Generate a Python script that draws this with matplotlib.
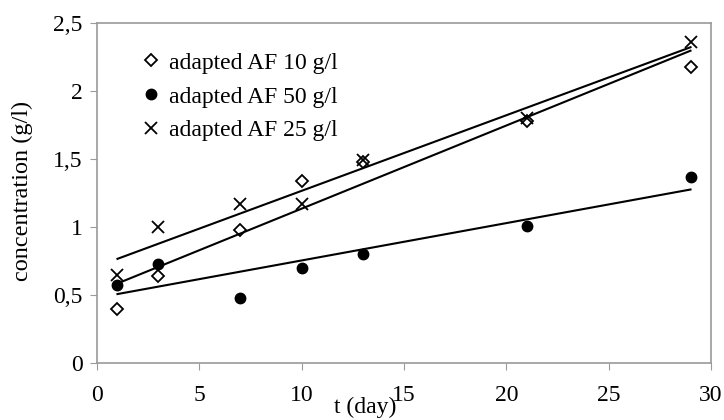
import numpy as np
import matplotlib
matplotlib.use("Agg")
import matplotlib.pyplot as plt
from matplotlib.ticker import FuncFormatter

days = [1, 3, 7, 10, 13, 21, 29]
af10 = [0.40, 0.64, 0.98, 1.34, 1.48, 1.78, 2.18]
af50 = [0.57, 0.73, 0.48, 0.70, 0.80, 1.01, 1.37]
af25 = [0.65, 1.00, 1.17, 1.17, 1.49, 1.80, 2.36]

plt.rcParams['font.family'] = ['Liberation Serif', 'DejaVu Serif']
plt.rcParams['font.size'] = 17

fig = plt.figure(figsize=(7.24, 4.2), dpi=100)
ax = fig.add_axes([0.134, 0.136, 0.848, 0.809])

x = np.array(days)
ax.plot(x, af10, ls='none', marker='D', ms=6.5, mfc='white', mec='black', mew=1.3,
        label='adapted AF 10 g/l')
ax.plot(x, af50, ls='none', marker='o', ms=7.5, mfc='black', mec='black',
        label='adapted AF 50 g/l')
ax.plot(x, af25, ls='none', marker='x', ms=9, mec='black', mew=1.3,
        label='adapted AF 25 g/l')

# linear trend lines
for ys in (af10, af50, af25):
    k, b = np.polyfit(x, ys, 1)
    ax.plot([x[0], x[-1]], [k * x[0] + b, k * x[-1] + b], color='black', lw=1.5)

ax.set_xlim(0, 30)
ax.set_ylim(0, 2.5)
ax.set_xticks([0, 5, 10, 15, 20, 25, 30])
ax.set_yticks([0, 0.5, 1, 1.5, 2, 2.5])
ax.yaxis.set_major_formatter(FuncFormatter(lambda v, p: ('%g' % v).replace('.', ',')))

for s in ax.spines.values():
    s.set_color('#9a9a9a')
    s.set_linewidth(1.2)
ax.tick_params(axis='x', direction='out', length=5, color='#9a9a9a', pad=11)
ax.tick_params(axis='y', direction='out', length=5, color='#9a9a9a', pad=5.5)

fig.text(22 / 724, 1 - 191 / 420, 'concentration (g/l)', rotation=90,
         ha='center', va='center', fontsize=17.5)
fig.text(0.504, 0.03, 't (day)', ha='center', va='center', fontsize=17)

ax.legend(loc='upper left', bbox_to_anchor=(0.046, 0.963), frameon=False,
          handlelength=0.8, handletextpad=0.35, labelspacing=0.52, borderpad=0.2)

fig.savefig('out.png', dpi=100)
